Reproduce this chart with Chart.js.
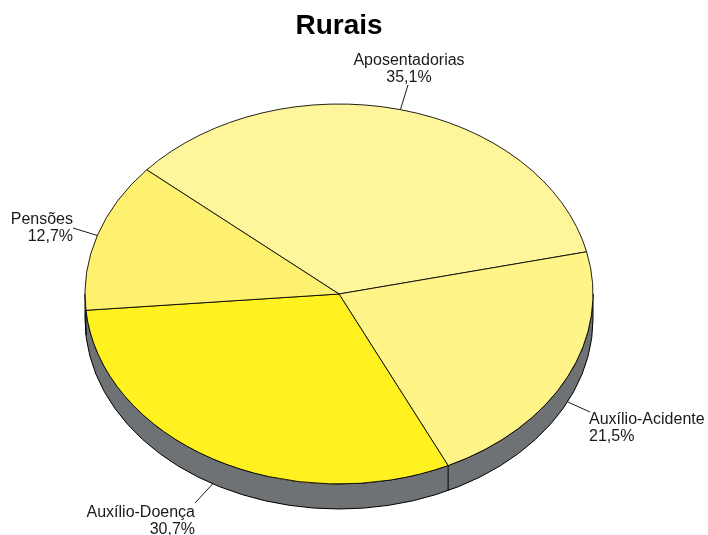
<!DOCTYPE html>
<html>
<head>
<meta charset="utf-8">
<title>Rurais</title>
<script src="https://cdn.jsdelivr.net/npm/chart.js@4"></script>
<style>
  body { margin: 0; background: #fff; }
  canvas { display: block; }
</style>
</head>
<body>
<canvas id="pieChart" width="708" height="535"></canvas>
<script>
const categories = ["Aposentadorias", "Auxílio-Acidente", "Auxílio-Doença", "Pensões"];
const values = [35.1, 21.5, 30.7, 12.7];
const valueLabels = ["35,1%", "21,5%", "30,7%", "12,7%"];
const sliceColors = ["#FFF69B", "#FFF487", "#FFF220", "#FFF170"];

// pie look: flattened disc with a grey side wall
const SQUASH = 0.748;
const CENTER_Y = 294;
const DEPTH = 25;
const SIDE_COLOR = "#6F7274";
const LABEL_FONT = '16px "Liberation Sans", Arial, sans-serif';

// where each label ends up: leader end point, text anchor, text align
const labelSpots = [
  { endX: 408, endY: 85, x: 409, y: 61, align: "center" },
  { endX: 590, endY: 412, x: 589, y: 420, align: "left" },
  { endX: 195, endY: 503, x: 195, y: 513, align: "right" },
  { endX: 73, endY: 228, x: 73, y: 220, align: "right" }
];

function squashed(ctx, arc) {
  ctx.translate(arc.x, CENTER_Y);
  ctx.scale(1, SQUASH);
  ctx.translate(-arc.x, -arc.y);
}

const sideWallPlugin = {
  id: "sideWall",
  beforeDatasetsDraw(chart) {
    const ctx = chart.ctx;
    const arcs = chart.getDatasetMeta(0).data;
    const cx = arcs[0].x;
    const rx = arcs[0].outerRadius;
    const ry = rx * SQUASH;

    ctx.save();
    ctx.beginPath();
    ctx.ellipse(cx, CENTER_Y, rx, ry, 0, 0, Math.PI);
    ctx.lineTo(cx - rx, CENTER_Y + DEPTH);
    ctx.ellipse(cx, CENTER_Y + DEPTH, rx, ry, 0, Math.PI, 0, true);
    ctx.closePath();
    ctx.fillStyle = SIDE_COLOR;
    ctx.fill();
    ctx.strokeStyle = "#000";
    ctx.lineWidth = 1;
    ctx.stroke();

    // slice edges running down the wall
    arcs.forEach((arc) => {
      const s = Math.sin(arc.startAngle);
      if (s > 0) {
        const x = cx + rx * Math.cos(arc.startAngle);
        const y = CENTER_Y + ry * s;
        ctx.beginPath();
        ctx.moveTo(x, y);
        ctx.lineTo(x, y + DEPTH);
        ctx.stroke();
      }
    });
    ctx.restore();

    ctx.save();
    squashed(ctx, arcs[0]);
  },
  afterDatasetsDraw(chart) {
    const ctx = chart.ctx;
    ctx.restore();

    const arcs = chart.getDatasetMeta(0).data;
    ctx.save();
    ctx.font = LABEL_FONT;
    ctx.fillStyle = "#1a1a1a";
    ctx.strokeStyle = "#1a1a1a";
    ctx.lineWidth = 1;
    ctx.textBaseline = "middle";
    arcs.forEach((arc, i) => {
      const spot = labelSpots[i];
      const mid = (arc.startAngle + arc.endAngle) / 2;
      const rx = arc.outerRadius;
      let startY = CENTER_Y + rx * SQUASH * Math.sin(mid);
      if (Math.sin(mid) > 0) startY += DEPTH;
      ctx.beginPath();
      ctx.moveTo(arc.x + rx * Math.cos(mid), startY);
      ctx.lineTo(spot.endX, spot.endY);
      ctx.stroke();

      ctx.textAlign = spot.align;
      ctx.fillText(categories[i], spot.x, spot.y);
      ctx.fillText(valueLabels[i], spot.x, spot.y + 17);
    });
    ctx.restore();
  }
};

new Chart(document.getElementById("pieChart"), {
  type: "pie",
  data: {
    labels: categories,
    datasets: [
      {
        data: values,
        backgroundColor: sliceColors,
        borderColor: "#000",
        borderWidth: 1,
        clip: false
      }
    ]
  },
  options: {
    responsive: false,
    animation: false,
    radius: 254,
    rotation: -49.2,
    layout: { padding: { right: 30 } },
    plugins: {
      legend: { display: false },
      tooltip: { enabled: false },
      title: {
        display: true,
        text: "Rurais",
        color: "#000",
        font: { family: '"Liberation Sans", Arial, sans-serif', size: 28, weight: "bold" },
        padding: { top: 9, bottom: 7 }
      }
    }
  },
  plugins: [sideWallPlugin]
});
</script>
</body>
</html>
